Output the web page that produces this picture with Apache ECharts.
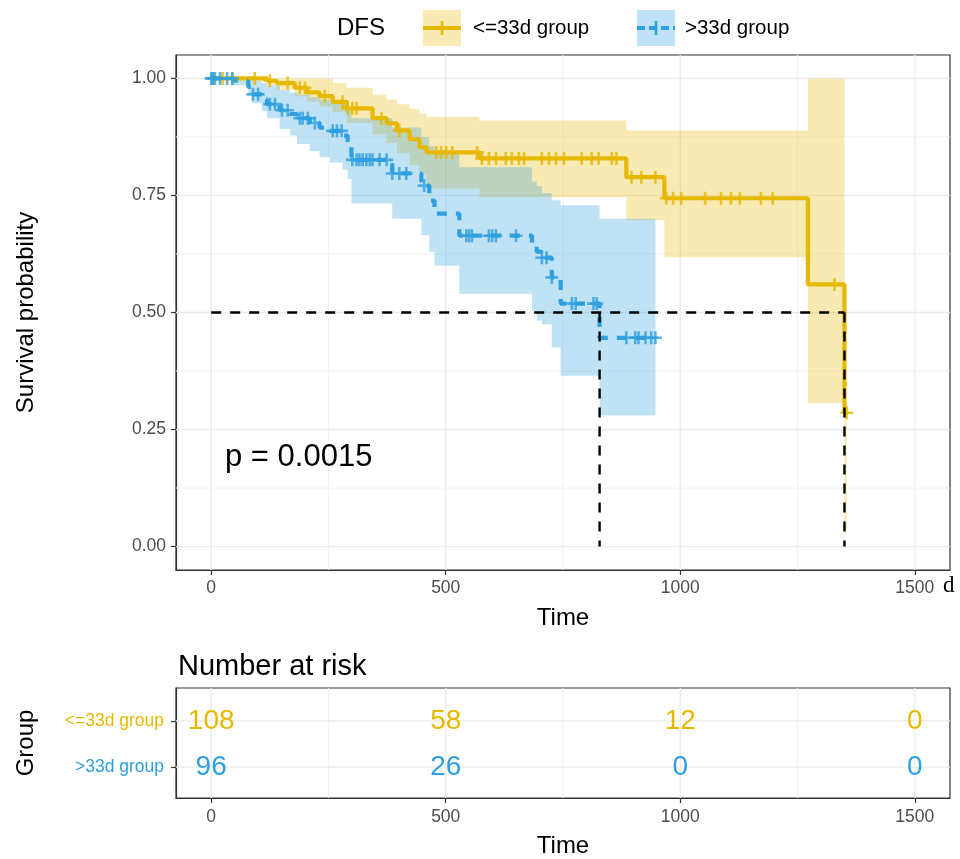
<!DOCTYPE html>
<html><head><meta charset="utf-8">
<script src="https://cdn.jsdelivr.net/npm/echarts@6/dist/echarts.min.js"></script>
<style>html,body{margin:0;padding:0;background:#fff}#c{width:960px;height:859px}</style>
</head><body><div id="c"></div>
<script>
// ---------- data ----------
const xTicks = [0, 500, 1000, 1500];
const xMinor = [250, 750, 1250];
const yTicks = [0, 0.25, 0.5, 0.75, 1];
const yMinor = [0.125, 0.375, 0.625, 0.875];
const groups = ['<=33d group', '>33d group'];

// <=33d group
const lowTimes = [0, 119, 140, 178, 204, 231, 259, 289, 344, 374, 396, 423, 444, 459, 572, 885, 966, 1272, 1350];
const lowSurv  = [1, 0.995, 0.99, 0.98, 0.97, 0.962, 0.95, 0.936, 0.915, 0.904, 0.889, 0.87, 0.853, 0.842, 0.829, 0.789, 0.744, 0.56, 0.286];
const lowLower = [1, 0.985, 0.975, 0.962, 0.95, 0.94, 0.928, 0.905, 0.88, 0.862, 0.84, 0.815, 0.795, 0.765, 0.746, 0.697, 0.618, 0.306, 0.03];
const lowUpper = [1, 1, 1, 1, 1, 1, 0.99, 0.98, 0.965, 0.955, 0.945, 0.935, 0.925, 0.918, 0.91, 0.889, 0.889, 1, 0.29];
const lowEnd = 1355;
const lowCensor = [4, 25, 45, 93, 125, 163, 189, 200, 242, 280, 291, 301, 310, 363, 401, 480, 490, 501, 514, 567,
  577, 592, 607, 628, 641, 656, 667, 705, 720, 735, 752, 790, 811, 826, 854, 864, 896, 917, 947,
  970, 985, 1002, 1053, 1087, 1108, 1127, 1172, 1197, 1329, 1355];

// >33d group
const highTimes = [0, 47, 79, 87, 108, 119, 146, 168, 183, 210, 231, 253, 280, 291, 299, 386, 448, 465, 476, 529, 684, 694, 705, 726, 745, 828];
const highSurv  = [1, 0.995, 0.982, 0.966, 0.955, 0.945, 0.932, 0.924, 0.915, 0.905, 0.895, 0.888, 0.878, 0.862, 0.826, 0.797, 0.771, 0.739, 0.711, 0.664, 0.645, 0.63, 0.617, 0.575, 0.519, 0.446];
const highLower = [1, 0.985, 0.965, 0.947, 0.93, 0.915, 0.892, 0.878, 0.86, 0.845, 0.832, 0.82, 0.805, 0.785, 0.733, 0.7, 0.665, 0.63, 0.6, 0.54, 0.504, 0.483, 0.475, 0.425, 0.365, 0.28];
const highUpper = [1, 1, 1, 0.995, 0.99, 0.985, 0.975, 0.97, 0.965, 0.96, 0.955, 0.95, 0.945, 0.935, 0.915, 0.895, 0.875, 0.855, 0.84, 0.81, 0.78, 0.77, 0.755, 0.74, 0.729, 0.7];
const highEnd = 947;
const highCensor = [0, 3, 8, 19, 34, 45, 89, 100, 125, 136, 151, 163, 189, 195, 206, 221, 259, 268, 278,
  301, 310, 316, 323, 331, 338, 344, 359, 374, 386, 401, 416, 454, 544, 550, 556, 592, 599, 607, 650,
  705, 715, 726, 769, 777, 815, 822, 885, 904, 911, 926, 938, 947];

const medians = [828, 1350];
const riskTimes = [0, 500, 1000, 1500];
const riskLow = [108, 58, 12, 0];
const riskHigh = [96, 26, 0, 0];
const pText = 'p = 0.0015';

// ---------- helpers ----------
const FONT = '"Liberation Sans", Arial, Helvetica, sans-serif';
const YEL = '#E7B800', BLU = '#2E9FDF';
const YEL_A = 'rgba(231,184,0,0.3)', BLU_A = 'rgba(46,159,223,0.3)';
const XR = [-75, 1575], YR = [-0.05, 1.05], RYR = [0.33, 2.71];
const TICK_FS = 17.5, TITLE_FS = 24;

function stepValue(times, surv, t) {
  let v = surv[0];
  for (let i = 0; i < times.length; i++) if (times[i] <= t) v = surv[i];
  return v;
}
function curveData(times, surv, end) {
  const d = times.map((t, i) => [t, surv[i]]);
  d.push([end, surv[surv.length - 1]]);
  return d;
}
function bandSeries(times, lower, upper, end, fill) {
  return {
    type: 'custom', xAxisIndex: 0, yAxisIndex: 0, silent: true, z: 2, data: [[0, 0]],
    renderItem: (params, api) => {
      const up = [], lo = [];
      for (let i = 0; i < times.length; i++) {
        const t1 = i + 1 < times.length ? times[i + 1] : end;
        up.push(api.coord([times[i], upper[i]]), api.coord([t1, upper[i]]));
        lo.push(api.coord([times[i], lower[i]]), api.coord([t1, lower[i]]));
      }
      return { type: 'polygon', shape: { points: up.concat(lo.reverse()) }, style: { fill: fill } };
    }
  };
}
function gridSeries(gi, xMaj, xMin, yMaj, yMin, yr) {
  const items = [];
  xMaj.forEach(v => items.push([v, 0, 1]));
  xMin.forEach(v => items.push([v, 0, 0]));
  yMaj.forEach(v => items.push([v, 1, 1]));
  yMin.forEach(v => items.push([v, 1, 0]));
  return {
    type: 'custom', xAxisIndex: gi, yAxisIndex: gi, silent: true, z: 1, data: items,
    renderItem: (params, api) => {
      const v = api.value(0), horiz = api.value(1), major = api.value(2);
      let p1, p2;
      if (!horiz) { p1 = api.coord([v, yr[0]]); p2 = api.coord([v, yr[1]]); }
      else { p1 = api.coord([XR[0], v]); p2 = api.coord([XR[1], v]); }
      return { type: 'line', shape: { x1: p1[0], y1: p1[1], x2: p2[0], y2: p2[1] },
        style: { stroke: major ? '#EBEBEB' : '#F3F3F3', lineWidth: major ? 1.3 : 1 } };
    }
  };
}
const PLUS = 'path://M4,0H6V4H10V6H6V10H4V6H0V4H4Z';
function censorSeries(times, surv, cens, color) {
  return {
    type: 'scatter', xAxisIndex: 0, yAxisIndex: 0, z: 4, silent: true,
    symbol: PLUS, symbolSize: 13, itemStyle: { color: color },
    data: cens.map(t => [t, stepValue(times, surv, t)])
  };
}
function riskSeries(vals, row, color) {
  return {
    type: 'custom', xAxisIndex: 1, yAxisIndex: 1, z: 4, silent: true,
    data: riskTimes.map((t, i) => [t, row, vals[i]]),
    renderItem: (params, api) => {
      const p = api.coord([api.value(0), api.value(1)]);
      return { type: 'text', x: p[0], y: p[1],
        style: { text: String(api.value(2)), fill: color, fontSize: 28, fontFamily: FONT, align: 'center', verticalAlign: 'middle' } };
    }
  };
}

const axisCommonX = (gi, margin) => ({
  type: 'value', gridIndex: gi, min: XR[0], max: XR[1],
  axisLine: { show: true, onZero: false, lineStyle: { color: '#333', width: 1.2 } },
  axisTick: { show: true, customValues: xTicks, length: 5, lineStyle: { color: '#333', width: 1.2 } },
  axisLabel: { customValues: xTicks, formatter: v => String(v), color: '#4D4D4D', fontSize: TICK_FS, fontFamily: FONT, margin: margin },
  splitLine: { show: false },
  name: 'Time', nameLocation: 'middle', nameGap: 36,
  nameTextStyle: { color: '#000', fontSize: TITLE_FS, fontFamily: FONT }
});

const medianSeries = {
  type: 'custom', xAxisIndex: 0, yAxisIndex: 0, silent: true, z: 6, data: [[0, 0]],
  renderItem: (params, api) => {
    const children = [];
    const a = api.coord([0, 0.5]), b = api.coord([Math.max.apply(null, medians), 0.5]);
    children.push({ type: 'line', shape: { x1: a[0], y1: a[1], x2: b[0], y2: b[1] },
      style: { stroke: '#000', lineWidth: 2.4, lineDash: [10, 9] } });
    medians.forEach(m => {
      const p = api.coord([m, 0.5]), q = api.coord([m, 0]);
      children.push({ type: 'line', shape: { x1: p[0], y1: p[1], x2: q[0], y2: q[1] },
        style: { stroke: '#000', lineWidth: 2.4, lineDash: [10, 9] } });
    });
    return { type: 'group', children: children };
  }
};

const chart = echarts.init(document.getElementById('c'));
chart.setOption({
  animation: false,
  backgroundColor: '#fff',
  textStyle: { fontFamily: FONT },
  grid: [
    { left: 176, top: 55, width: 774, height: 515, show: true, borderColor: '#333', borderWidth: 1.2, backgroundColor: '#fff' },
    { left: 176, top: 688, width: 774, height: 114, show: true, borderColor: '#333', borderWidth: 1.2, backgroundColor: '#fff' }
  ],
  xAxis: [axisCommonX(0, 9), axisCommonX(1, 10)],
  yAxis: [
    { type: 'value', gridIndex: 0, min: YR[0], max: YR[1],
      axisLine: { show: true, onZero: false, lineStyle: { color: '#333', width: 1.2 } },
      axisTick: { show: true, customValues: yTicks, length: 5, lineStyle: { color: '#333', width: 1.2 } },
      axisLabel: { customValues: yTicks, formatter: v => v.toFixed(2), color: '#4D4D4D', fontSize: TICK_FS, fontFamily: FONT, margin: 10 },
      splitLine: { show: false },
      name: 'Survival probability', nameLocation: 'middle', nameGap: 138,
      nameTextStyle: { color: '#000', fontSize: TITLE_FS, fontFamily: FONT } },
    { type: 'value', gridIndex: 1, min: RYR[0], max: RYR[1],
      axisLine: { show: true, onZero: false, lineStyle: { color: '#333', width: 1.2 } },
      axisTick: { show: true, customValues: [1, 2], length: 5, lineStyle: { color: '#333', width: 1.2 } },
      axisLabel: { customValues: [1, 2], margin: 12, fontSize: 17.5, fontFamily: FONT,
        formatter: v => v === 2 ? '{a|' + groups[0] + '}' : '{b|' + groups[1] + '}',
        rich: { a: { color: YEL, fontSize: 17.5, fontFamily: FONT }, b: { color: BLU, fontSize: 17.5, fontFamily: FONT } } },
      splitLine: { show: false },
      name: 'Group', nameLocation: 'middle', nameGap: 138,
      nameTextStyle: { color: '#000', fontSize: TITLE_FS, fontFamily: FONT } }
  ],
  series: [
    gridSeries(0, xTicks, xMinor, yTicks, yMinor, YR),
    gridSeries(1, xTicks, xMinor, [1, 2], [], RYR),
    bandSeries(lowTimes, lowLower, lowUpper, lowEnd, YEL_A),
    bandSeries(highTimes, highLower, highUpper, highEnd, BLU_A),
    { type: 'line', xAxisIndex: 0, yAxisIndex: 0, z: 3, step: 'end', showSymbol: false, silent: true,
      lineStyle: { color: YEL, width: 4.2 }, data: curveData(lowTimes, lowSurv, lowEnd) },
    { type: 'line', xAxisIndex: 0, yAxisIndex: 0, z: 3, step: 'end', showSymbol: false, silent: true,
      lineStyle: { color: BLU, width: 4.2, type: [10, 9] }, data: curveData(highTimes, highSurv, highEnd) },
    censorSeries(lowTimes, lowSurv, lowCensor, YEL),
    censorSeries(highTimes, highSurv, highCensor, BLU),
    medianSeries,
    riskSeries(riskLow, 2, YEL),
    riskSeries(riskHigh, 1, BLU)
  ],
  graphic: [
    { type: 'text', z: 100, x: 337, y: 28, style: { text: 'DFS', fontSize: 24, fontFamily: FONT, fill: '#000', verticalAlign: 'middle' } },
    { type: 'rect', z: 100, shape: { x: 423, y: 10, width: 38, height: 36 }, style: { fill: YEL_A } },
    { type: 'line', z: 101, shape: { x1: 423, y1: 28, x2: 461, y2: 28 }, style: { stroke: YEL, lineWidth: 4 } },
    { type: 'line', z: 101, shape: { x1: 442, y1: 21, x2: 442, y2: 35 }, style: { stroke: YEL, lineWidth: 2.6 } },
    { type: 'text', z: 100, x: 473, y: 28, style: { text: groups[0], fontSize: 20.5, fontFamily: FONT, fill: '#000', verticalAlign: 'middle' } },
    { type: 'rect', z: 100, shape: { x: 637, y: 10, width: 38, height: 36 }, style: { fill: BLU_A } },
    { type: 'line', z: 101, shape: { x1: 637, y1: 28, x2: 675, y2: 28 }, style: { stroke: BLU, lineWidth: 4, lineDash: [8, 4] } },
    { type: 'line', z: 101, shape: { x1: 656, y1: 21, x2: 656, y2: 35 }, style: { stroke: BLU, lineWidth: 2.6 } },
    { type: 'text', z: 100, x: 685, y: 28, style: { text: groups[1], fontSize: 20.5, fontFamily: FONT, fill: '#000', verticalAlign: 'middle' } },
    { type: 'text', z: 100, x: 225, y: 457, style: { text: pText, fontSize: 31, fontFamily: FONT, fill: '#000', verticalAlign: 'middle' } },
    { type: 'text', z: 100, x: 943, y: 586, style: { text: 'd', fontSize: 23, fontFamily: '"Liberation Serif", "Times New Roman", serif', fill: '#000', verticalAlign: 'middle' } },
    { type: 'text', z: 100, x: 178, y: 667, style: { text: 'Number at risk', fontSize: 29, fontFamily: FONT, fill: '#000', verticalAlign: 'middle' } }
  ]
});
</script></body></html>
